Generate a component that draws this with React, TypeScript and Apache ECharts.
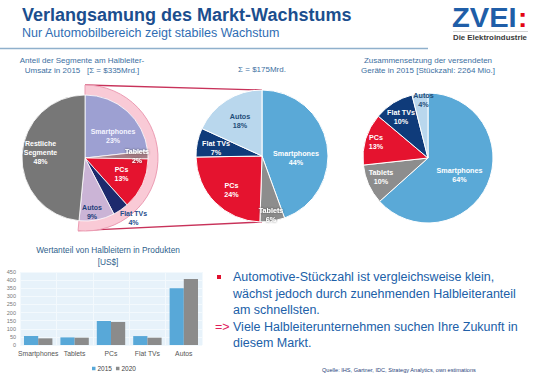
import React, { useEffect, useRef } from "react";
import * as echarts from "echarts";

const FONT = '"Liberation Sans", Arial, sans-serif';

// ---- data ----
const segmentNames = ["Smartphones", "Tablets", "PCs", "Flat TVs", "Autos", "Restliche\nSegmente"];
const segmentShare2015 = [23, 2, 13, 4, 9, 48];

const deviceNames = ["Smartphones", "Tablets", "PCs", "Flat TVs", "Autos"];
const semiRevenueShare = [44, 6, 24, 7, 18];
const unitShare = [64, 10, 13, 10, 4];

const barCategories = ["Smartphones", "Tablets", "PCs", "Flat TVs", "Autos"];
const value2015 = [55, 47, 148, 55, 350];
const value2020 = [41, 45, 142, 45, 407];
const barSeriesNames = ["2015", "2020"];

// ---- styles ----
const pie1Colors = ["#9da0d2", "#a67c84", "#e5132f", "#1d2a6d", "#cbb4d6", "#777777"];
const pie1LabelColors = ["#f4f4ff", "#ffffff", "#ffffff", "#1f4e8c", "#1f3f7a", "#ffffff"];
const pie1Shadow = [false, true, false, false, false, false];
// label centre relative to the pie centre
const pie1LabelPos = [[28, -22], [52, -2], [36.5, 15.5], [48.5, 59.5], [7, 54], [-44.5, -5.3]];

const devColors = ["#5aa9d7", "#8d8d8d", "#e5132f", "#0f3b7a", "#b9d7ed"];
const devLabelColors = ["#ffffff", "#ffffff", "#ffffff", "#ffffff", "#1f4e79"];
const pie2Shadow = [false, true, false, false, false];
const pie3Shadow = [false, false, false, false, false];
const pie2LabelPos = [[34, 1.5], [9, 58.5], [-30.5, 34], [-46, -8], [-22, -35.5]];
const pie3LabelPos = [[31.5, 16.5], [-47, 19], [-52, -16], [-27, -41], [-4.5, -58]];

const C1 = [85, 158];
const R1 = 63;
const RPINK = 73;
const C2 = [262, 156];
const R2 = 66;
const C3 = [428, 158];
const R3 = 65;

function makePieData(
  names: string[],
  values: number[],
  colors: string[],
  labelColors: string[],
  shadow: boolean[]
) {
  return values.map((v, i) => ({
    name: names[i],
    value: v,
    itemStyle: { color: colors[i] },
    label: shadow[i]
      ? { color: labelColors[i], textShadowColor: "rgba(60,60,60,0.85)", textShadowBlur: 2 }
      : { color: labelColors[i] },
  }));
}

function pieLabel(size: number) {
  return {
    show: true,
    position: "inside" as const,
    formatter: (p: any) => `${p.name}\n${p.value}%`,
    fontFamily: FONT,
    fontSize: size,
    fontWeight: "bold" as const,
    lineHeight: 9,
    align: "center" as const,
  };
}

function placeLabels(center: number[], pos: number[][]) {
  return (p: any) => ({
    x: center[0] + pos[p.dataIndex][0],
    y: center[1] + pos[p.dataIndex][1],
    align: "center",
    verticalAlign: "middle",
  });
}

export default function App() {
  const ref = useRef<HTMLDivElement>(null);

  useEffect(() => {
    if (!ref.current) return;
    const chart = echarts.init(ref.current, undefined, { renderer: "svg" });

    const highlighted = segmentShare2015.slice(0, 5).reduce((a, b) => a + b, 0);
    const rest = segmentShare2015[5];
    const total = highlighted + rest;
    const endAng = (90 - (highlighted / total) * 360) * (Math.PI / 180);
    const pinkEnd = [C1[0] + RPINK * Math.cos(endAng), C1[1] - RPINK * Math.sin(endAng)];

    const option: any = {
      animation: false,
      backgroundColor: "#ffffff",
      textStyle: { fontFamily: FONT },
      grid: {
        left: 20,
        top: 272,
        width: 182,
        height: 73,
        show: true,
        backgroundColor: "#e7f2fa",
        borderWidth: 0,
      },
      legend: {
        data: barSeriesNames,
        left: 87,
        top: 360,
        icon: "rect",
        itemWidth: 3.5,
        itemHeight: 3.5,
        itemGap: 4,
        textStyle: { fontFamily: FONT, fontSize: 6.5, color: "#444", padding: [0, 0, 0, -3] },
      },
      xAxis: {
        type: "category",
        data: barCategories,
        axisLine: { show: false },
        axisTick: { show: false },
        axisLabel: { fontFamily: FONT, fontSize: 6.8, color: "#555", margin: 5, interval: 0 },
        splitLine: { show: true, lineStyle: { color: "#f3f9fd", width: 1 } },
      },
      yAxis: {
        type: "value",
        min: 0,
        max: 450,
        interval: 50,
        axisLine: { show: false },
        axisTick: { show: false },
        axisLabel: { fontFamily: FONT, fontSize: 5.5, color: "#777", margin: 4 },
        splitLine: { show: true, lineStyle: { color: "#f3f9fd", width: 1 } },
      },
      series: [
        {
          type: "bar",
          name: barSeriesNames[0],
          data: value2015,
          itemStyle: { color: "#58a8d8" },
          barGap: "0%",
          barCategoryGap: "22%",
        },
        {
          type: "bar",
          name: barSeriesNames[1],
          data: value2020,
          itemStyle: { color: "#8b8b8b" },
        },
        {
          type: "pie",
          center: C1,
          radius: [0, RPINK],
          startAngle: 90,
          clockwise: true,
          silent: true,
          z: 1,
          label: { show: false },
          labelLine: { show: false },
          data: [
            { value: highlighted, itemStyle: { color: "#f9cad6", borderColor: "#ec9cb3", borderWidth: 1 } },
            { value: rest, itemStyle: { color: "rgba(0,0,0,0)" } },
          ],
        },
        {
          type: "pie",
          center: C1,
          radius: [0, R1],
          startAngle: 90,
          clockwise: true,
          z: 3,
          itemStyle: { borderColor: "#ffffff", borderWidth: 0.8 },
          label: pieLabel(7),
          labelLine: { show: false },
          labelLayout: placeLabels(C1, pie1LabelPos),
          data: makePieData(segmentNames, segmentShare2015, pie1Colors, pie1LabelColors, pie1Shadow),
        },
        {
          type: "pie",
          center: C2,
          radius: [0, R2],
          startAngle: 90,
          clockwise: true,
          z: 3,
          itemStyle: { borderColor: "#ffffff", borderWidth: 1 },
          label: pieLabel(7.2),
          labelLine: { show: false },
          labelLayout: placeLabels(C2, pie2LabelPos),
          data: makePieData(deviceNames, semiRevenueShare, devColors, devLabelColors, pie2Shadow),
        },
        {
          type: "pie",
          center: C3,
          radius: [0, R3],
          startAngle: 90,
          clockwise: true,
          z: 3,
          itemStyle: { borderColor: "#ffffff", borderWidth: 1 },
          label: pieLabel(7.2),
          labelLine: { show: false },
          labelLayout: placeLabels(C3, pie3LabelPos),
          data: makePieData(deviceNames, unitShare, devColors, devLabelColors, pie3Shadow),
        },
      ],
      graphic: [
        // header
        {
          type: "text",
          x: 22,
          y: 15,
          style: {
            text: "Verlangsamung des Markt-Wachstums",
            fontFamily: FONT,
            fontSize: 18,
            fontWeight: "bold",
            fill: "#1b4e8e",
            verticalAlign: "middle",
          },
        },
        {
          type: "text",
          x: 22,
          y: 33,
          style: {
            text: "Nur Automobilbereich zeigt stabiles Wachstum",
            fontFamily: FONT,
            fontSize: 12.5,
            fill: "#2f6db3",
            verticalAlign: "middle",
          },
        },
        {
          type: "line",
          shape: { x1: 0, y1: 48.5, x2: 428, y2: 48.5 },
          style: { stroke: "#8fb0cc", lineWidth: 1.5 },
        },
        // logo
        {
          type: "text",
          x: 452,
          y: 17,
          scaleX: 1.04,
          style: {
            text: "ZVEI",
            fontFamily: FONT,
            fontSize: 28,
            fontWeight: "bold",
            fill: "#1f5ea8",
            verticalAlign: "middle",
          },
        },
        {
          type: "text",
          x: 518,
          y: 17,
          style: {
            text: ":",
            fontFamily: FONT,
            fontSize: 28,
            fontWeight: "bold",
            fill: "#e30613",
            verticalAlign: "middle",
          },
        },
        {
          type: "line",
          shape: { x1: 453, y1: 31.5, x2: 528, y2: 31.5 },
          style: { stroke: "#b5b5b5", lineWidth: 0.6 },
        },
        {
          type: "text",
          x: 453,
          y: 37.5,
          scaleX: 1.12,
          style: {
            text: "Die Elektroindustrie",
            fontFamily: FONT,
            fontSize: 7,
            fontWeight: "bold",
            fill: "#3a3a3a",
            verticalAlign: "middle",
          },
        },
        // pie captions
        {
          type: "text",
          x: 82,
          y: 65,
          style: {
            text: "Anteil der Segmente am Halbleiter-\nUmsatz in 2015   [Σ = $335Mrd.]",
            fontFamily: FONT,
            fontSize: 8,
            lineHeight: 10,
            fill: "#3c6f9f",
            align: "center",
            verticalAlign: "middle",
          },
        },
        {
          type: "text",
          x: 262,
          y: 69,
          style: {
            text: "Σ = $175Mrd.",
            fontFamily: FONT,
            fontSize: 8,
            fill: "#3c6f9f",
            align: "center",
            verticalAlign: "middle",
          },
        },
        {
          type: "text",
          x: 428,
          y: 65,
          style: {
            text: "Zusammensetzung der versendeten\nGeräte in 2015 [Stückzahl: 2264 Mio.]",
            fontFamily: FONT,
            fontSize: 8,
            lineHeight: 10,
            fill: "#3c6f9f",
            align: "center",
            verticalAlign: "middle",
          },
        },
        // connector lines
        {
          type: "line",
          z: 0,
          shape: { x1: C1[0], y1: C1[1] - RPINK, x2: C2[0], y2: C2[1] - R2 },
          style: { stroke: "#c8325a", lineWidth: 1.4 },
        },
        {
          type: "line",
          z: 0,
          shape: { x1: pinkEnd[0], y1: pinkEnd[1], x2: C2[0], y2: C2[1] + R2 },
          style: { stroke: "#c8325a", lineWidth: 1.4 },
        },
        // bar chart title
        {
          type: "text",
          x: 108,
          y: 256,
          style: {
            text: "Wertanteil von Halbleitern in Produkten\n[US$]",
            fontFamily: FONT,
            fontSize: 8.3,
            lineHeight: 12,
            fill: "#2f5f8c",
            align: "center",
            verticalAlign: "middle",
          },
        },
        // right text block
        {
          type: "rect",
          shape: { x: 217, y: 275, width: 4, height: 4 },
          style: { fill: "#e0102e" },
        },
        {
          type: "text",
          x: 233,
          y: 277,
          style: {
            text: "Automotive-Stückzahl ist vergleichsweise klein,\nwächst jedoch durch zunehmenden Halbleiteranteil\nam schnellsten.",
            fontFamily: FONT,
            fontSize: 12.5,
            lineHeight: 16.5,
            fill: "#2060a8",
            verticalAlign: "top",
            y: -8,
          },
        },
        {
          type: "text",
          x: 215,
          y: 327,
          style: {
            text: "=>",
            fontFamily: FONT,
            fontSize: 12.5,
            fill: "#e0205a",
            verticalAlign: "middle",
          },
        },
        {
          type: "text",
          x: 233,
          y: 327,
          style: {
            text: "Viele Halbleiterunternehmen suchen Ihre Zukunft in\ndiesem Markt.",
            fontFamily: FONT,
            fontSize: 12.5,
            lineHeight: 16,
            fill: "#2060a8",
            verticalAlign: "top",
            y: -8,
          },
        },
        {
          type: "text",
          x: 322,
          y: 370,
          style: {
            text: "Quelle: IHS, Gartner, IDC, Strategy Analytics, own estimations",
            fontFamily: FONT,
            fontSize: 5.6,
            fill: "#1f3f7a",
            verticalAlign: "middle",
          },
        },
      ],
    };
    chart.setOption(option);
    return () => chart.dispose();
  }, []);

  return (
    <div
      ref={ref}
      style={{ position: "absolute", left: 0, top: 0, width: 540, height: 380, background: "#fff" }}
    />
  );
}
